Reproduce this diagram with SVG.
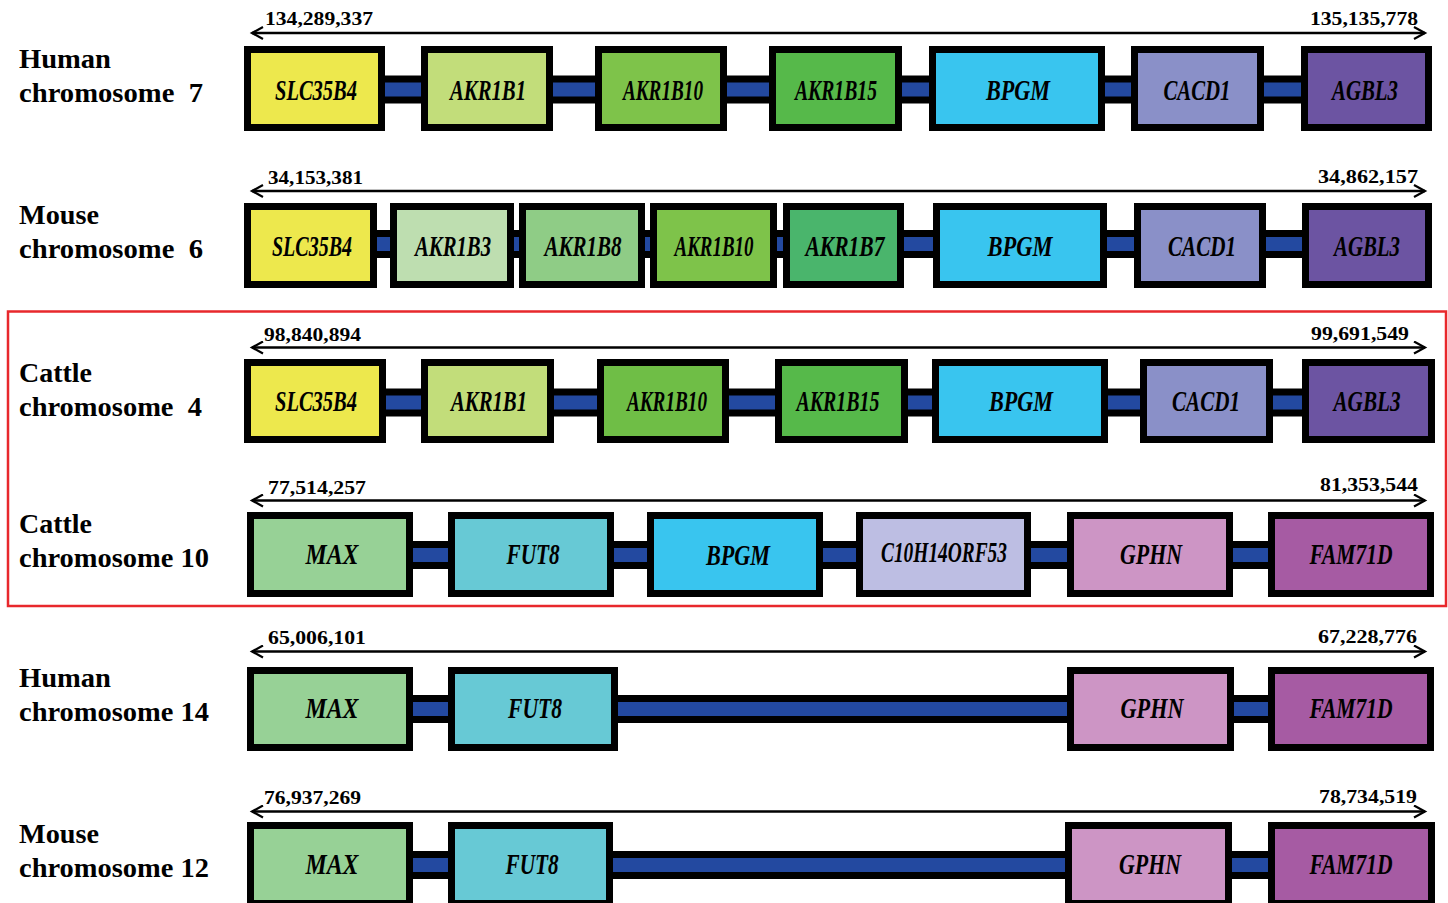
<svg xmlns="http://www.w3.org/2000/svg" width="1448" height="903" viewBox="0 0 1448 903">
<defs>
<marker id="ah" markerUnits="userSpaceOnUse" markerWidth="16" markerHeight="14" refX="13" refY="7" orient="auto-start-reverse">
<path d="M2,1 L13,7 L2,13" fill="none" stroke="#000" stroke-width="2.2"/>
</marker>
<style>
.bg{fill:#fff}
.box{stroke:#000;stroke-width:7}
.gene{font-family:"Liberation Serif","Times New Roman",serif;font-style:italic;font-weight:bold;font-size:29px;fill:#000;text-anchor:middle}
.num{font-family:"Liberation Serif","Times New Roman",serif;font-weight:bold;font-size:18px;fill:#000}
.side{font-family:"Liberation Serif","Times New Roman",serif;font-weight:bold;font-size:28px;fill:#000}
.axis{stroke:#000;stroke-width:2.5;fill:none;marker-start:url(#ah);marker-end:url(#ah)}
.link{fill:#2349A0;stroke:#000;stroke-width:7}
.hl{fill:none;stroke:#E8282C;stroke-width:2.5}
.c-slc{fill:#EDE84D}.c-b1{fill:#C2DD7A}.c-b10{fill:#7EC34A}.c-b10c{fill:#6FBE46}.c-b15{fill:#56B94A}
.c-bpgm{fill:#39C5EF}.c-cacd{fill:#8A90C8}.c-agbl{fill:#6C54A2}.c-b3{fill:#BEDEB0}.c-b8{fill:#8FCC86}
.c-b7{fill:#4AB56C}.c-max{fill:#97D196}.c-fut{fill:#67C9D5}.c-c10{fill:#BDBEE3}.c-gphn{fill:#CD95C5}.c-fam{fill:#A65BA3}
</style>
</defs>
<rect class="bg" x="0" y="0" width="1448" height="903"/>

<rect class="hl" x="8" y="311.5" width="1438" height="294.5"/>

<g id="labels">
<text class="side" x="19" y="68" textLength="92" lengthAdjust="spacingAndGlyphs">Human</text>
<text class="side" x="19" y="102" textLength="184" lengthAdjust="spacingAndGlyphs" xml:space="preserve">chromosome  7</text>
<text class="side" x="19" y="224" textLength="80" lengthAdjust="spacingAndGlyphs">Mouse</text>
<text class="side" x="19" y="258" textLength="184" lengthAdjust="spacingAndGlyphs" xml:space="preserve">chromosome  6</text>
<text class="side" x="19" y="382" textLength="73" lengthAdjust="spacingAndGlyphs">Cattle</text>
<text class="side" x="19" y="416" textLength="183" lengthAdjust="spacingAndGlyphs" xml:space="preserve">chromosome  4</text>
<text class="side" x="19" y="533" textLength="73" lengthAdjust="spacingAndGlyphs">Cattle</text>
<text class="side" x="19" y="567" textLength="190" lengthAdjust="spacingAndGlyphs">chromosome 10</text>
<text class="side" x="19" y="687" textLength="92" lengthAdjust="spacingAndGlyphs">Human</text>
<text class="side" x="19" y="721" textLength="190" lengthAdjust="spacingAndGlyphs">chromosome 14</text>
<text class="side" x="19" y="843" textLength="80" lengthAdjust="spacingAndGlyphs">Mouse</text>
<text class="side" x="19" y="877" textLength="190" lengthAdjust="spacingAndGlyphs">chromosome 12</text>
</g>

<g id="axes">
<line class="axis" x1="252" y1="33" x2="1425" y2="33"/>
<text class="num" x="265" y="25" textLength="108" lengthAdjust="spacingAndGlyphs">134,289,337</text>
<text class="num" x="1418" y="25" text-anchor="end" textLength="108" lengthAdjust="spacingAndGlyphs">135,135,778</text>
<line class="axis" x1="252" y1="191" x2="1425" y2="191"/>
<text class="num" x="268" y="184" textLength="95" lengthAdjust="spacingAndGlyphs">34,153,381</text>
<text class="num" x="1418" y="183" text-anchor="end" textLength="100" lengthAdjust="spacingAndGlyphs">34,862,157</text>
<line class="axis" x1="252" y1="347.5" x2="1425" y2="347.5"/>
<text class="num" x="264" y="341" textLength="97" lengthAdjust="spacingAndGlyphs">98,840,894</text>
<text class="num" x="1409" y="339.5" text-anchor="end" textLength="98" lengthAdjust="spacingAndGlyphs">99,691,549</text>
<line class="axis" x1="252" y1="500.5" x2="1425" y2="500.5"/>
<text class="num" x="268" y="493.5" textLength="98" lengthAdjust="spacingAndGlyphs">77,514,257</text>
<text class="num" x="1418" y="491" text-anchor="end" textLength="98" lengthAdjust="spacingAndGlyphs">81,353,544</text>
<line class="axis" x1="252" y1="651.5" x2="1425" y2="651.5"/>
<text class="num" x="268" y="644" textLength="98" lengthAdjust="spacingAndGlyphs">65,006,101</text>
<text class="num" x="1417" y="643" text-anchor="end" textLength="99" lengthAdjust="spacingAndGlyphs">67,228,776</text>
<line class="axis" x1="252" y1="811.5" x2="1425" y2="811.5"/>
<text class="num" x="264" y="803.5" textLength="97" lengthAdjust="spacingAndGlyphs">76,937,269</text>
<text class="num" x="1417" y="803" text-anchor="end" textLength="98" lengthAdjust="spacingAndGlyphs">78,734,519</text>
</g>

<g id="connectors">
<rect class="link" x="380" y="79" width="45" height="21"/>
<rect class="link" x="549" y="79" width="50" height="21"/>
<rect class="link" x="723" y="79" width="50" height="21"/>
<rect class="link" x="898" y="79" width="35" height="21"/>
<rect class="link" x="1101" y="79" width="34" height="21"/>
<rect class="link" x="1260" y="79" width="45" height="21"/>

<rect class="link" x="373" y="233.5" width="21" height="21"/>
<rect class="link" x="510" y="233.5" width="13" height="21"/>
<rect class="link" x="641" y="233.5" width="13" height="21"/>
<rect class="link" x="773" y="233.5" width="14" height="21"/>
<rect class="link" x="900" y="233.5" width="37" height="21"/>
<rect class="link" x="1103" y="233.5" width="35" height="21"/>
<rect class="link" x="1262" y="233.5" width="44" height="21"/>

<rect class="link" x="382" y="392" width="43" height="21"/>
<rect class="link" x="550" y="392" width="51" height="21"/>
<rect class="link" x="725" y="392" width="54" height="21"/>
<rect class="link" x="904" y="392" width="32" height="21"/>
<rect class="link" x="1104" y="392" width="40" height="21"/>
<rect class="link" x="1269" y="392" width="37" height="21"/>

<rect class="link" x="409" y="544.5" width="43" height="21"/>
<rect class="link" x="610" y="544.5" width="41" height="21"/>
<rect class="link" x="819" y="544.5" width="41" height="21"/>
<rect class="link" x="1027" y="544.5" width="44" height="21"/>
<rect class="link" x="1229" y="544.5" width="43" height="21"/>

<rect class="link" x="409" y="698.5" width="43" height="21"/>
<rect class="link" x="614" y="698.5" width="457" height="21"/>
<rect class="link" x="1230" y="698.5" width="42" height="21"/>

<rect class="link" x="409" y="854.5" width="43" height="21"/>
<rect class="link" x="609" y="854.5" width="460" height="21"/>
<rect class="link" x="1228" y="854.5" width="44" height="21"/>
</g>

<g id="row-human7">
<g id="h7-slc35b4"><rect class="box c-slc" x="247.5" y="49.5" width="134" height="78"/><text class="gene" x="316" y="100" textLength="82" lengthAdjust="spacingAndGlyphs">SLC35B4</text></g>
<g id="h7-akr1b1"><rect class="box c-b1" x="424.5" y="49.5" width="125" height="78"/><text class="gene" x="488" y="100" textLength="76" lengthAdjust="spacingAndGlyphs">AKR1B1</text></g>
<g id="h7-akr1b10"><rect class="box c-b10" x="598.5" y="49.5" width="125" height="78"/><text class="gene" x="663" y="100" textLength="80" lengthAdjust="spacingAndGlyphs">AKR1B10</text></g>
<g id="h7-akr1b15"><rect class="box c-b15" x="772.5" y="49.5" width="126" height="78"/><text class="gene" x="836" y="100" textLength="82" lengthAdjust="spacingAndGlyphs">AKR1B15</text></g>
<g id="h7-bpgm"><rect class="box c-bpgm" x="932.5" y="49.5" width="169" height="78"/><text class="gene" x="1018" y="100" textLength="64" lengthAdjust="spacingAndGlyphs">BPGM</text></g>
<g id="h7-cacd1"><rect class="box c-cacd" x="1134.5" y="49.5" width="126" height="78"/><text class="gene" x="1197" y="100" textLength="67" lengthAdjust="spacingAndGlyphs">CACD1</text></g>
<g id="h7-agbl3"><rect class="box c-agbl" x="1304.5" y="49.5" width="124" height="78"/><text class="gene" x="1365" y="100" textLength="66" lengthAdjust="spacingAndGlyphs">AGBL3</text></g>
</g>

<g id="row-mouse6">
<g id="m6-slc35b4"><rect class="box c-slc" x="247.5" y="206.5" width="126" height="78"/><text class="gene" x="312" y="256" textLength="80" lengthAdjust="spacingAndGlyphs">SLC35B4</text></g>
<g id="m6-akr1b3"><rect class="box c-b3" x="393.5" y="206.5" width="117" height="78"/><text class="gene" x="453" y="256" textLength="76" lengthAdjust="spacingAndGlyphs">AKR1B3</text></g>
<g id="m6-akr1b8"><rect class="box c-b8" x="522.5" y="206.5" width="119" height="78"/><text class="gene" x="583" y="256" textLength="77" lengthAdjust="spacingAndGlyphs">AKR1B8</text></g>
<g id="m6-akr1b10"><rect class="box c-b10" x="653.5" y="206.5" width="120" height="78"/><text class="gene" x="714" y="256" textLength="79" lengthAdjust="spacingAndGlyphs">AKR1B10</text></g>
<g id="m6-akr1b7"><rect class="box c-b7" x="786.5" y="206.5" width="114" height="78"/><text class="gene" x="845" y="256" textLength="79" lengthAdjust="spacingAndGlyphs">AKR1B7</text></g>
<g id="m6-bpgm"><rect class="box c-bpgm" x="936.5" y="206.5" width="167" height="78"/><text class="gene" x="1020" y="256" textLength="65" lengthAdjust="spacingAndGlyphs">BPGM</text></g>
<g id="m6-cacd1"><rect class="box c-cacd" x="1137.5" y="206.5" width="125" height="78"/><text class="gene" x="1202" y="256" textLength="68" lengthAdjust="spacingAndGlyphs">CACD1</text></g>
<g id="m6-agbl3"><rect class="box c-agbl" x="1305.5" y="206.5" width="123" height="78"/><text class="gene" x="1367" y="256" textLength="66" lengthAdjust="spacingAndGlyphs">AGBL3</text></g>
</g>

<g id="row-cattle4">
<g id="c4-slc35b4"><rect class="box c-slc" x="247.5" y="362.5" width="135" height="77"/><text class="gene" x="316" y="411" textLength="82" lengthAdjust="spacingAndGlyphs">SLC35B4</text></g>
<g id="c4-akr1b1"><rect class="box c-b1" x="424.5" y="362.5" width="126" height="77"/><text class="gene" x="489" y="411" textLength="76" lengthAdjust="spacingAndGlyphs">AKR1B1</text></g>
<g id="c4-akr1b10"><rect class="box c-b10c" x="600.5" y="362.5" width="125" height="77"/><text class="gene" x="667" y="411" textLength="80" lengthAdjust="spacingAndGlyphs">AKR1B10</text></g>
<g id="c4-akr1b15"><rect class="box c-b15" x="778.5" y="362.5" width="126" height="77"/><text class="gene" x="838" y="411" textLength="83" lengthAdjust="spacingAndGlyphs">AKR1B15</text></g>
<g id="c4-bpgm"><rect class="box c-bpgm" x="935.5" y="362.5" width="169" height="77"/><text class="gene" x="1021" y="411" textLength="64" lengthAdjust="spacingAndGlyphs">BPGM</text></g>
<g id="c4-cacd1"><rect class="box c-cacd" x="1143.5" y="362.5" width="126" height="77"/><text class="gene" x="1206" y="411" textLength="68" lengthAdjust="spacingAndGlyphs">CACD1</text></g>
<g id="c4-agbl3"><rect class="box c-agbl" x="1305.5" y="362.5" width="126" height="77"/><text class="gene" x="1367" y="411" textLength="67" lengthAdjust="spacingAndGlyphs">AGBL3</text></g>
</g>

<g id="row-cattle10">
<g id="c10-max"><rect class="box c-max" x="250.5" y="515.5" width="159" height="78"/><text class="gene" x="332" y="564" textLength="53" lengthAdjust="spacingAndGlyphs">MAX</text></g>
<g id="c10-fut8"><rect class="box c-fut" x="451.5" y="515.5" width="159" height="78"/><text class="gene" x="533" y="564" textLength="53" lengthAdjust="spacingAndGlyphs">FUT8</text></g>
<g id="c10-bpgm"><rect class="box c-bpgm" x="650.5" y="515.5" width="169" height="78"/><text class="gene" x="738" y="565" textLength="64" lengthAdjust="spacingAndGlyphs">BPGM</text></g>
<g id="c10-c10h14orf53"><rect class="box c-c10" x="859.5" y="515.5" width="168" height="78"/><text class="gene" x="944" y="562" textLength="126" lengthAdjust="spacingAndGlyphs">C10H14ORF53</text></g>
<g id="c10-gphn"><rect class="box c-gphn" x="1070.5" y="515.5" width="159" height="78"/><text class="gene" x="1151" y="564" textLength="62" lengthAdjust="spacingAndGlyphs">GPHN</text></g>
<g id="c10-fam71d"><rect class="box c-fam" x="1271.5" y="515.5" width="159" height="78"/><text class="gene" x="1351" y="564" textLength="83" lengthAdjust="spacingAndGlyphs">FAM71D</text></g>
</g>

<g id="row-human14">
<g id="h14-max"><rect class="box c-max" x="250.5" y="670.5" width="159" height="77"/><text class="gene" x="332" y="718" textLength="53" lengthAdjust="spacingAndGlyphs">MAX</text></g>
<g id="h14-fut8"><rect class="box c-fut" x="451.5" y="670.5" width="163" height="77"/><text class="gene" x="535" y="718" textLength="54" lengthAdjust="spacingAndGlyphs">FUT8</text></g>
<g id="h14-gphn"><rect class="box c-gphn" x="1070.5" y="670.5" width="160" height="77"/><text class="gene" x="1152" y="718" textLength="63" lengthAdjust="spacingAndGlyphs">GPHN</text></g>
<g id="h14-fam71d"><rect class="box c-fam" x="1271.5" y="670.5" width="159" height="77"/><text class="gene" x="1351" y="718" textLength="83" lengthAdjust="spacingAndGlyphs">FAM71D</text></g>
</g>

<g id="row-mouse12">
<g id="m12-max"><rect class="box c-max" x="250.5" y="825.5" width="159" height="78"/><text class="gene" x="332" y="874" textLength="53" lengthAdjust="spacingAndGlyphs">MAX</text></g>
<g id="m12-fut8"><rect class="box c-fut" x="451.5" y="825.5" width="158" height="78"/><text class="gene" x="532" y="874" textLength="53" lengthAdjust="spacingAndGlyphs">FUT8</text></g>
<g id="m12-gphn"><rect class="box c-gphn" x="1068.5" y="825.5" width="160" height="78"/><text class="gene" x="1150" y="874" textLength="62" lengthAdjust="spacingAndGlyphs">GPHN</text></g>
<g id="m12-fam71d"><rect class="box c-fam" x="1271.5" y="825.5" width="160" height="78"/><text class="gene" x="1351" y="874" textLength="83" lengthAdjust="spacingAndGlyphs">FAM71D</text></g>
</g>
</svg>
